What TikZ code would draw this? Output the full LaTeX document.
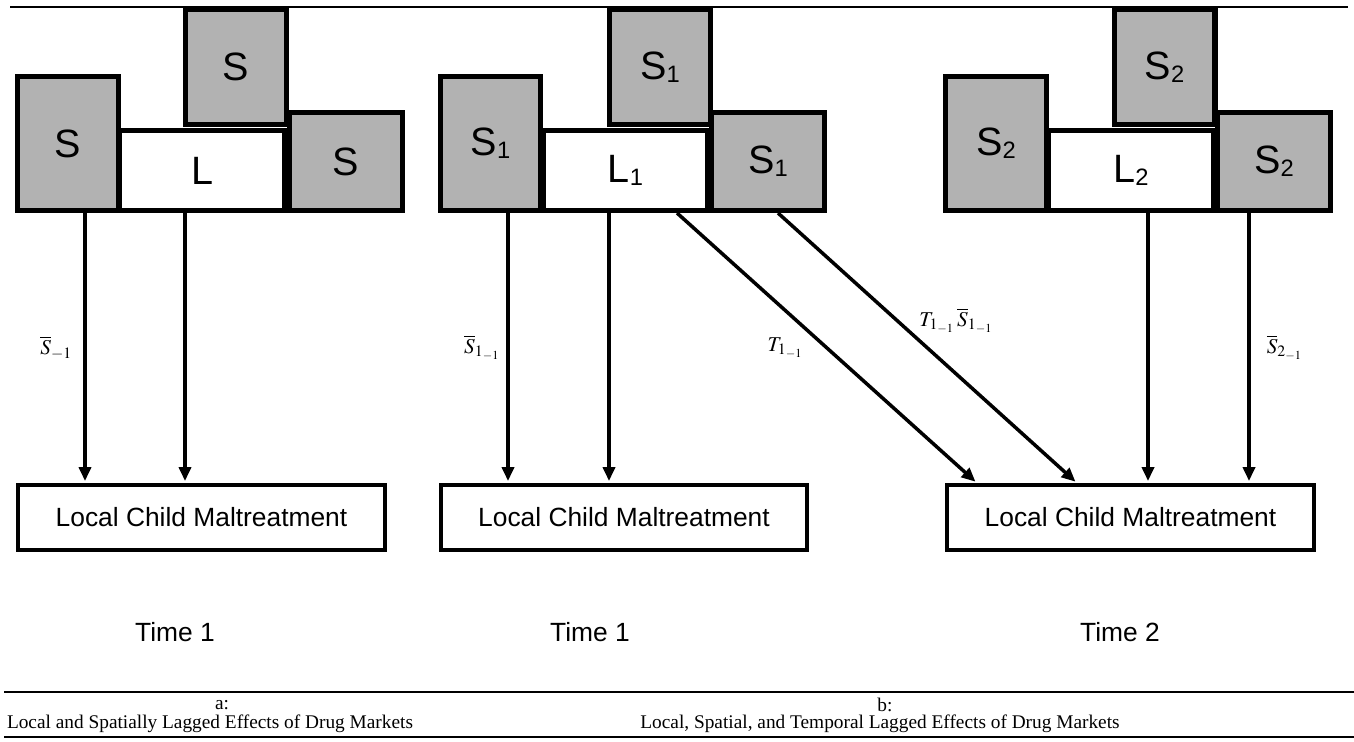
\documentclass[tikz,border=0pt]{standalone}
\usepackage{mathptmx}
\usepackage{fontspec}
\setmainfont{Liberation Sans}
\newfontfamily\capfont{Liberation Serif}
\usetikzlibrary{arrows.meta}
\newcommand\boxsub[1]{\raisebox{-1.8pt}{\fontsize{13.5}{14}\selectfont#1}}

\begin{document}
\begin{tikzpicture}[x=0.2mm,y=-0.2mm,
  box/.style={draw,line width=3pt,inner sep=0pt,font=\fontsize{22.5}{27}\selectfont},
  sleft/.style={box,fill=black!30,minimum width=20.14mm,minimum height=26.74mm},
  stop/.style={box,fill=black!30,minimum width=20.14mm,minimum height=22.94mm},
  sright/.style={box,fill=black!30,minimum width=22.54mm,minimum height=19.54mm},
  lbox/.style={box,fill=white,minimum width=32.94mm,minimum height=15.94mm},
  outbox/.style={draw,line width=2.5pt,minimum width=73.3mm,minimum height=12.9mm,font=\fontsize{15}{18}\selectfont},
  arr/.style={line width=2pt,-{Triangle[length=2.8mm,width=2.4mm]},shorten >=0.4mm},
  lbl/.style={inner sep=0pt,font=\fontsize{12}{14}\selectfont},
  timelbl/.style={font=\fontsize{15}{18}\selectfont},
  capt/.style={inner sep=0pt,font=\capfont\fontsize{11}{13}\selectfont}]
\useasboundingbox (0,0) rectangle (1354,741);
\draw[line width=0.75pt] (10,7) -- (1348,7);

% a: time 1
\node[sleft] (sal) at (68,143.5) {S};
\node[stop] (sat) at (236,67) {S};
\node[lbox] (la) at (202,170.5) {L};
\node[sright] (sar) at (346,161.5) {S};
\node[outbox] (outa) at (201.5,517.5) {Local Child Maltreatment};
\draw[arr] (sal.south -| 85,0) -- (outa.north -| 85,0) node[lbl,midway,left=2.2mm] {$\overline{S}_{-1}$};
\draw[arr] (la.south -| 185,0) -- (outa.north -| 185,0);
\node[timelbl] (ta) at (175,632) {Time 1};

% b: time 1
\node[sleft] (sbl) at (490.5,143.5) {S\boxsub{1}};
\node[stop] (sbt) at (660,67) {S\boxsub{1}};
\node[lbox] (lb) at (625.5,170.5) {L\boxsub{1}};
\node[sright] (sbr) at (768,161.5) {S\boxsub{1}};
\node[outbox] (outb) at (624,517.5) {Local Child Maltreatment};
\draw[arr] (sbl.south -| 508,0) -- (outb.north -| 508,0) node[lbl,midway,left=1.2mm] {$\overline{S}_{1_{-1}}$};
\draw[arr] (lb.south -| 609,0) -- (outb.north -| 609,0);
\node[timelbl] (tb) at (590,632) {Time 1};

% b: time 2
\node[sleft] (scl) at (996,143.5) {S\boxsub{2}};
\node[stop] (sct) at (1164.5,67) {S\boxsub{2}};
\node[lbox] (lc) at (1131,170.5) {L\boxsub{2}};
\node[sright] (scr) at (1274,161.5) {S\boxsub{2}};
\node[outbox] (outc) at (1130.5,517.5) {Local Child Maltreatment};
\draw[arr] (lc.south -| 1148,0) -- (outc.north -| 1148,0);
\draw[arr] (scr.south -| 1249,0) -- (outc.north -| 1249,0) node[lbl,midway,right=3.2mm] {$\overline{S}_{2_{-1}}$};
\node[timelbl] (tc) at (1120,632) {Time 2};

% temporal lags
\draw[arr] (lb.south -| 677,0) -- (outc.north -| 977,0) node[lbl,pos=0.5,left=4.4mm] {$T_{1_{-1}}$};
\draw[arr] (sbr.south -| 778,0) -- (outc.north -| 1077,0) node[lbl,pos=0.4,right=4mm] {$T_{1_{-1}}\,\overline{S}_{1_{-1}}$};

% captions
\draw[line width=0.6pt] (4,692) -- (1354,692);
\node[capt] (capa) at (222,705) {a:};
\node[capt] (capa2) at (210,724) {Local and Spatially Lagged Effects of Drug Markets};
\node[capt] (capb) at (885,705) {b:};
\node[capt] (capb2) at (880,724) {Local, Spatial, and Temporal Lagged Effects of Drug Markets};
\draw[line width=1pt] (4,737) -- (1354,737);
\end{tikzpicture}
\end{document}
